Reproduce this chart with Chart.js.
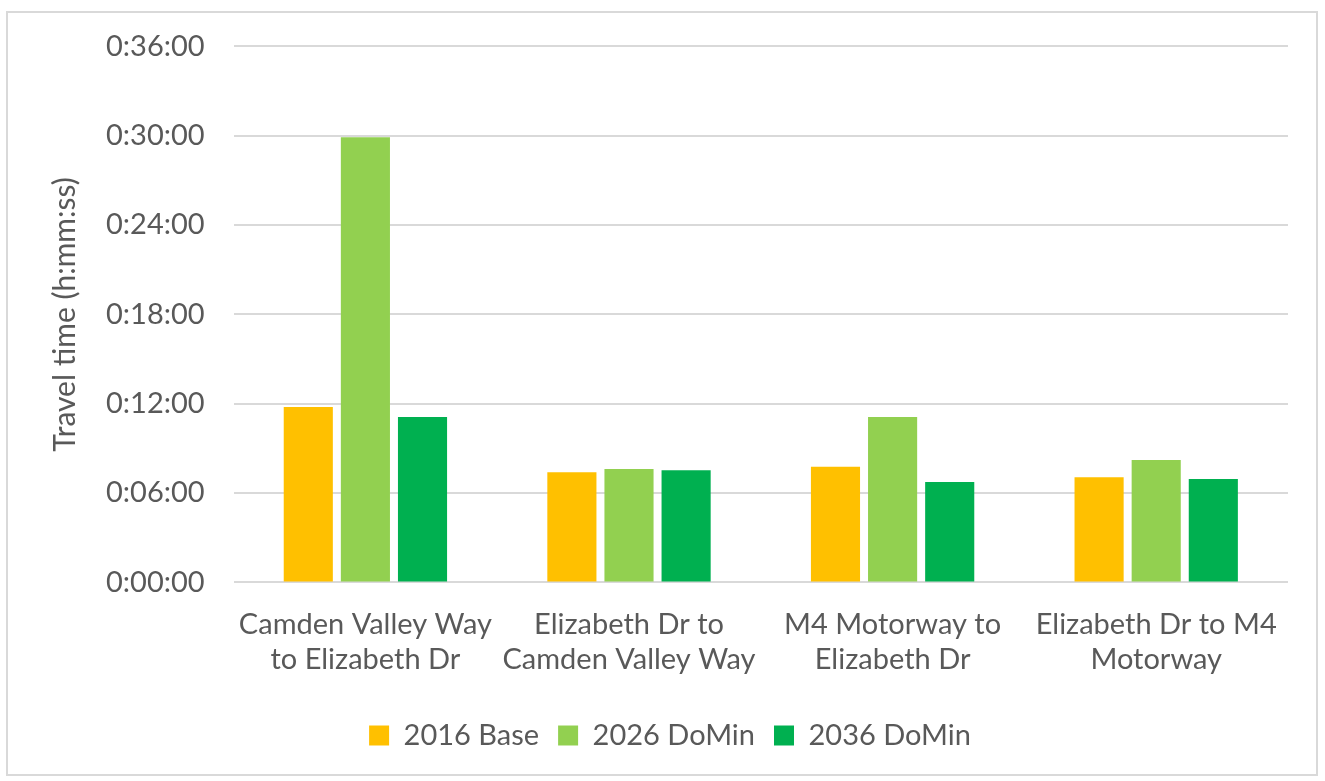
<!DOCTYPE html>
<html>
<head>
<meta charset="utf-8">
<script src="https://cdn.jsdelivr.net/npm/chart.js@4.4.1/dist/chart.umd.min.js"></script>
<style>
  html, body { margin: 0; padding: 0; background: #fff; }
  #frame { position: absolute; left: 6px; top: 11px; width: 1312px; height: 765px; border: 2px solid #d9d9d9; box-sizing: border-box; }
  #wrap { position: absolute; left: 0; top: 0; width: 1325px; height: 781px; }
</style>
</head>
<body>
<div id="frame"></div>
<div id="wrap"><canvas id="c" width="1325" height="781"></canvas></div>
<script>
const categories = [
  ["Camden Valley Way", "to Elizabeth Dr"],
  ["Elizabeth Dr to", "Camden Valley Way"],
  ["M4 Motorway to", "Elizabeth Dr"],
  ["Elizabeth Dr to M4", "Motorway"]
];
const seriesNames = ["2016 Base", "2026 DoMin", "2036 DoMin"];
// travel times in seconds
const base2016 = [707, 444, 466, 424];
const doMin2026 = [1794, 457, 667, 493];
const doMin2036 = [667, 452, 405, 417];
const yTicksSeconds = [0, 360, 720, 1080, 1440, 1800, 2160];
const colors = ["#ffc000", "#92d050", "#00b050"];

function fmt(s) {
  const h = Math.floor(s / 3600);
  const m = Math.floor((s % 3600) / 60);
  const sec = Math.round(s % 60);
  return h + ":" + String(m).padStart(2, "0") + ":" + String(sec).padStart(2, "0");
}

const FONT = "Lato";
const TXT = "#595959";

const legendShift = {
  id: "legendShift",
  afterLayout(chart) {
    const lg = chart.legend;
    if (!lg) return;
    lg.left += 16; lg.right += 16;
    lg.top += 8; lg.bottom += 8;
  }
};

new Chart(document.getElementById("c"), {
  type: "bar",
  plugins: [legendShift],
  data: {
    labels: categories,
    datasets: [base2016, doMin2026, doMin2036].map((d, i) => ({
      label: seriesNames[i],
      data: d,
      backgroundColor: colors[i],
      borderWidth: 0,
      categoryPercentage: 0.65,
      barPercentage: 0.86
    }))
  },
  options: {
    responsive: false,
    animation: false,
    layout: { padding: { left: 20, right: 37, top: 45, bottom: 29 } },
    plugins: {
      tooltip: { enabled: false },
      legend: {
        position: "bottom",
        labels: {
          font: { family: FONT, size: 29 },
          color: TXT,
          boxWidth: 20,
          boxHeight: 20,
          padding: 19
        }
      }
    },
    scales: {
      x: {
        grid: { display: false },
        border: { display: false },
        ticks: {
          font: { family: FONT, size: 29 },
          color: TXT,
          maxRotation: 0,
          autoSkip: false,
          padding: 17
        }
      },
      y: {
        min: 0,
        max: 2160,
        afterBuildTicks: (axis) => { axis.ticks = yTicksSeconds.map(v => ({ value: v })); },
        grid: { color: "#d9d9d9", lineWidth: 2, drawTicks: false },
        border: { display: false },
        ticks: {
          font: { family: FONT, size: 29 },
          color: TXT,
          padding: 29,
          callback: (v) => fmt(v)
        },
        title: {
          display: true,
          text: "Travel time (h:mm:ss)",
          font: { family: FONT, size: 30 },
          color: TXT,
          padding: { top: 27, bottom: -6 }
        }
      }
    }
  }
});
</script>
</body>
</html>
